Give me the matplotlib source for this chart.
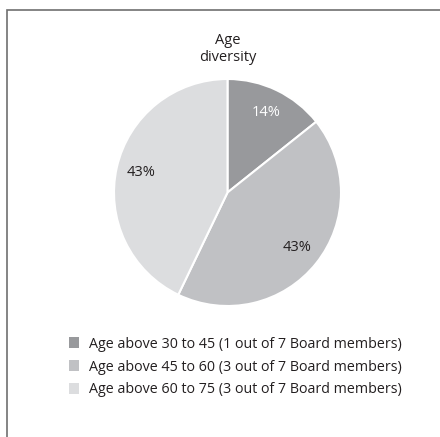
import matplotlib
matplotlib.use('Agg')

import matplotlib.pyplot as plt
import matplotlib.patches as patches

# Board age groups
labels = [
    'Age above 30 to 45 (1 out of 7 Board members)',
    'Age above 45 to 60 (3 out of 7 Board members)',
    'Age above 60 to 75 (3 out of 7 Board members)',
]
members = [1, 3, 3]
colors = ['#98999c', '#c0c1c4', '#dcdddf']
pct_colors = ['white', '#231f20', '#231f20']

plt.rcParams['font.family'] = ['Open Sans', 'DejaVu Sans']

fig = plt.figure(figsize=(4.4, 4.37), dpi=100)

# Outer frame
fig.add_artist(patches.Rectangle((7 / 440, -0.05), 1.1, 1 - 10 / 437 + 0.05,
                                 transform=fig.transFigure, fill=False,
                                 edgecolor='#6f6f6f', linewidth=1.2))

ax = fig.add_axes([114 / 440, (437 - 306) / 437, 227 / 440, 227 / 437])
wedges, texts, autotexts = ax.pie(
    members, colors=colors, startangle=90, counterclock=False,
    autopct=lambda p: f'{p:.0f}%', pctdistance=0.78,
    wedgeprops={'edgecolor': 'white', 'linewidth': 1.5},
    textprops={'fontsize': 10.5})
for t, c in zip(autotexts, pct_colors):
    t.set_color(c)
ax.set_xlim(-1, 1)
ax.set_ylim(-1, 1)
ax.set_aspect('equal')

fig.text(228 / 440, 1 - 49 / 437, 'Age\ndiversity', ha='center', va='center',
         fontsize=10.5, color='#231f20', linespacing=1.2)

handles = [patches.Patch(facecolor=c, edgecolor='none') for c in colors]
leg = fig.legend(handles, labels, loc='upper left',
                 bbox_to_anchor=(63 / 440, 1 - 331 / 437), frameon=False,
                 fontsize=10.3, handlelength=0.75, handleheight=0.75,
                 handletextpad=0.65, labelspacing=0.55, borderaxespad=0)
for t in leg.get_texts():
    t.set_color('#231f20')

fig.savefig('out.png', dpi=100)
